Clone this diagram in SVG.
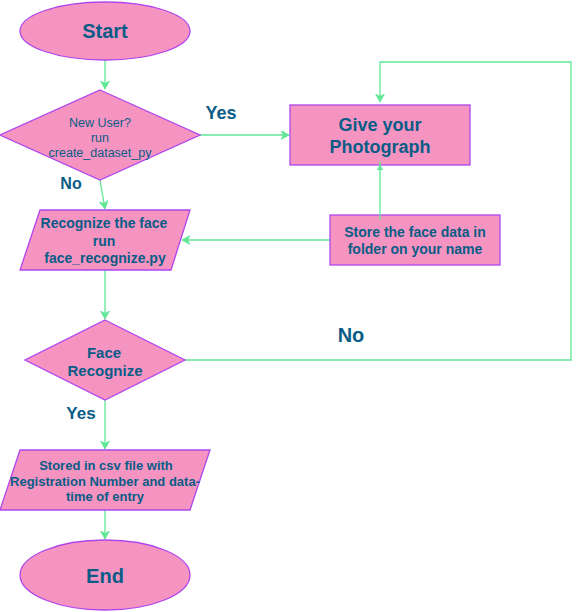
<svg xmlns="http://www.w3.org/2000/svg" width="579" height="612" viewBox="0 0 579 612">
<style>
.shape{fill:#F694C1;stroke:#AF45ED;stroke-width:1.3}
.edge{fill:none;stroke:#60E696;stroke-width:1.3}
text{font-family:"Liberation Sans",Arial,sans-serif;fill:#095C86;text-anchor:middle}
.b{font-weight:bold}
</style>
<defs>
<marker id="arr" markerUnits="userSpaceOnUse" markerWidth="10" markerHeight="10" refX="8" refY="4.5" orient="auto">
<path d="M0,0 L8,4.5 L0,9 L2.5,4.5 Z" fill="#60E696" stroke="#60E696" stroke-width="0.8"/>
</marker>
<marker id="arrs" markerUnits="userSpaceOnUse" markerWidth="8" markerHeight="8" refX="6" refY="3" orient="auto">
<path d="M0,0 L6,3 L0,6 L1.5,3 Z" fill="#60E696"/>
</marker>
</defs>
<rect width="579" height="612" fill="#FFFFFF"/>
<g id="connectors">
<path class="edge" d="M105,60 L105,89" marker-end="url(#arr)"/>
<path class="edge" d="M200,135 L289,135" marker-end="url(#arr)"/>
<path class="edge" d="M100,180 L105,209" marker-end="url(#arr)"/>
<path class="edge" d="M330,240 L182,240" marker-end="url(#arr)"/>
<path class="edge" d="M105,270 L105,319" marker-end="url(#arr)"/>
<path class="edge" d="M185,360 L571,360 L571,62 L380,62 L380,102" marker-end="url(#arr)"/>
<path class="edge" d="M105,400 L105,449" marker-end="url(#arr)"/>
<path class="edge" d="M105,510 L105,539" marker-end="url(#arr)"/>
</g>
<g id="start">
<ellipse class="shape" cx="105" cy="31" rx="85" ry="29"/>
<text class="b" x="105" y="38" font-size="20">Start</text>
</g>
<g id="newuser">
<polygon class="shape" points="100,90 200,135 100,180 0,135"/>
<text x="100" y="127" font-size="12.5">New User?</text>
<text x="100" y="142" font-size="12.5">run</text>
<text x="100" y="157" font-size="12.5">create_dataset_py</text>
</g>
<g id="photo">
<rect class="shape" x="290" y="105" width="180" height="60"/>
<text class="b" x="380" y="131" font-size="18">Give your</text>
<text class="b" x="380" y="153" font-size="18">Photograph</text>
</g>
<g id="store">
<rect class="shape" x="330" y="215" width="170" height="50"/>
<text class="b" x="415" y="237" font-size="14">Store the face data in</text>
<text class="b" x="415" y="254" font-size="14">folder on your name</text>
</g>
<g id="recognize">
<polygon class="shape" points="40,210 190,210 171,270 20,270"/>
<text class="b" x="104" y="228" font-size="14">Recognize the face</text>
<text class="b" x="104" y="246" font-size="14">run</text>
<text class="b" x="105" y="263" font-size="14">face_recognize.py</text>
</g>
<g id="facerec">
<polygon class="shape" points="105,320 185,360 105,400 25,360"/>
<text class="b" x="104" y="358" font-size="15">Face</text>
<text class="b" x="105" y="376" font-size="15">Recognize</text>
</g>
<g id="csv">
<polygon class="shape" points="20,450 210,450 190,510 0,510"/>
<text class="b" x="106" y="470" font-size="13">Stored in csv file with</text>
<text class="b" x="105" y="486" font-size="13">Registration Number and data-</text>
<text class="b" x="105" y="501" font-size="13">time of entry</text>
</g>
<g id="end">
<ellipse class="shape" cx="105" cy="575" rx="85" ry="35"/>
<text class="b" x="105" y="583" font-size="20">End</text>
</g>
<g id="store-link">
<path class="edge" d="M380,220 L380,161"/>
<path d="M377,170 L380,164 L383,170 Z" fill="#60E696"/>
</g>
<g id="labels">
<text class="b" x="221" y="119" font-size="18">Yes</text>
<text class="b" x="71" y="189" font-size="16">No</text>
<text class="b" x="351" y="342" font-size="20">No</text>
<text class="b" x="81" y="419" font-size="17">Yes</text>
</g>
</svg>
